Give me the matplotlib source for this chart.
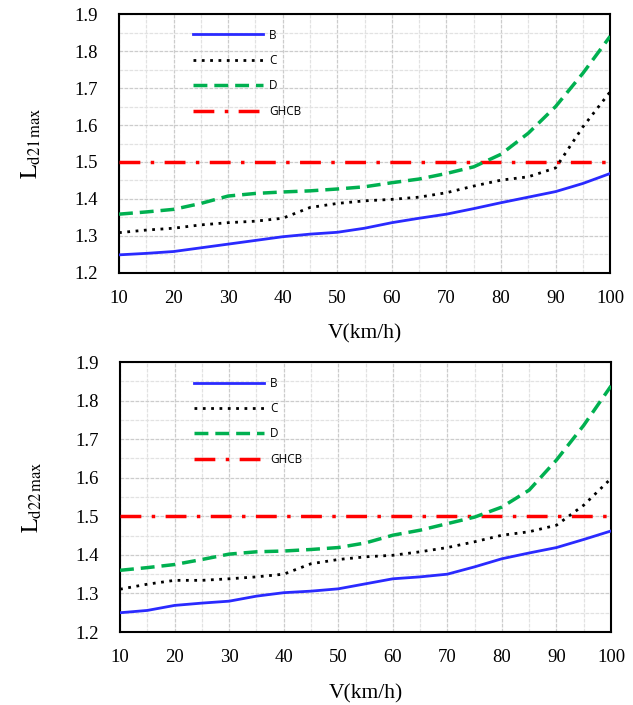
import matplotlib
matplotlib.use("Agg")
import matplotlib.pyplot as plt
from matplotlib.ticker import MultipleLocator

plt.rcParams['mathtext.fontset'] = 'stix'

speed = [10, 15, 20, 25, 30, 35, 40, 45, 50, 55, 60, 65, 70, 75, 80, 85, 90, 95, 100]

# Top chart (L_d21max)
b1 = [1.249, 1.253, 1.258, 1.268, 1.278, 1.288, 1.298, 1.305, 1.310, 1.321, 1.336, 1.348, 1.359, 1.374, 1.390, 1.405, 1.420, 1.442, 1.469]
c1 = [1.309, 1.316, 1.321, 1.330, 1.336, 1.340, 1.348, 1.377, 1.388, 1.395, 1.399, 1.405, 1.417, 1.435, 1.451, 1.460, 1.484, 1.595, 1.690]
d1 = [1.359, 1.365, 1.372, 1.388, 1.408, 1.415, 1.419, 1.422, 1.427, 1.433, 1.444, 1.454, 1.469, 1.487, 1.521, 1.578, 1.650, 1.740, 1.840]

# Bottom chart (L_d22max)
b2 = [1.250, 1.256, 1.269, 1.275, 1.280, 1.293, 1.302, 1.306, 1.312, 1.325, 1.338, 1.343, 1.350, 1.369, 1.390, 1.405, 1.419, 1.440, 1.462]
c2 = [1.311, 1.324, 1.334, 1.334, 1.338, 1.343, 1.350, 1.377, 1.388, 1.395, 1.399, 1.408, 1.419, 1.434, 1.451, 1.460, 1.477, 1.529, 1.598]
d2 = [1.360, 1.367, 1.375, 1.388, 1.402, 1.408, 1.410, 1.414, 1.419, 1.431, 1.451, 1.464, 1.481, 1.498, 1.524, 1.568, 1.646, 1.736, 1.838]

ghcb = 1.5
series_names = ['B', 'C', 'D', 'GHCB']
ylabels = [r'$\mathrm{L_{d21\,max}}$', r'$\mathrm{L_{d22\,max}}$']
xlabel = 'V(km/h)'

fig = plt.figure(figsize=(6.33, 7.05), dpi=100)
ax1 = fig.add_axes([0.188, 0.6128, 0.776, 0.3673])
ax2 = fig.add_axes([0.1896, 0.1035, 0.7757, 0.383])

serif = 'Liberation Serif'

for ax, b, c, d, yl in [(ax1, b1, c1, d1, ylabels[0]), (ax2, b2, c2, d2, ylabels[1])]:
    ax.plot(speed, b, color='#2a2aff', lw=2.0, ls='-', label=series_names[0], zorder=4)
    ax.plot(speed, c, color='black', lw=2.0, ls=(0, (1, 2)), label=series_names[1], zorder=4)
    ax.plot(speed, d, color='#00b050', lw=2.5, ls=(0, (4, 2)), label=series_names[2], zorder=4)
    ax.plot([speed[0], speed[-1]], [ghcb, ghcb], color='#ff0000', lw=2.5,
            ls=(0, (6, 3, 1, 3)), label=series_names[3], zorder=3)
    ax.set_xlim(10, 100)
    ax.set_ylim(1.2, 1.9)
    ax.xaxis.set_major_locator(MultipleLocator(10))
    ax.xaxis.set_minor_locator(MultipleLocator(5))
    ax.yaxis.set_major_locator(MultipleLocator(0.1))
    ax.yaxis.set_minor_locator(MultipleLocator(0.05))
    ax.grid(which='major', color='#cccccc', lw=0.9, ls=(0, (3, 1)))
    ax.grid(which='minor', color='#e2e2e2', lw=0.9, ls=(0, (3, 1)))
    ax.set_axisbelow(True)
    ax.tick_params(axis='x', which='both', length=0, labelsize=13.5, pad=12)
    ax.tick_params(axis='y', which='both', length=0, labelsize=13.5, pad=15)
    for lab in ax.get_xticklabels():
        lab.set_fontfamily(serif)
    ax.set_yticks(ax.get_yticks())
    ax.set_yticklabels([f'{v:.1f}' for v in ax.get_yticks()], fontfamily=serif, fontsize=13.5)
    ax.set_ylim(1.2, 1.9)
    ax.set_xlabel(xlabel, fontfamily=serif, fontsize=15.5, labelpad=13)
    ax.set_ylabel(yl, fontsize=17, labelpad=23)
    for s in ax.spines.values():
        s.set_linewidth(1.5)
        s.set_color('black')
    ax.legend(loc='upper left', bbox_to_anchor=(0.13, 0.985), frameon=False,
              handlelength=5.9, labelspacing=1.05, handletextpad=0.5,
              prop={'family': 'Open Sans', 'size': 8.5})

fig.savefig('out.png', dpi=100)
